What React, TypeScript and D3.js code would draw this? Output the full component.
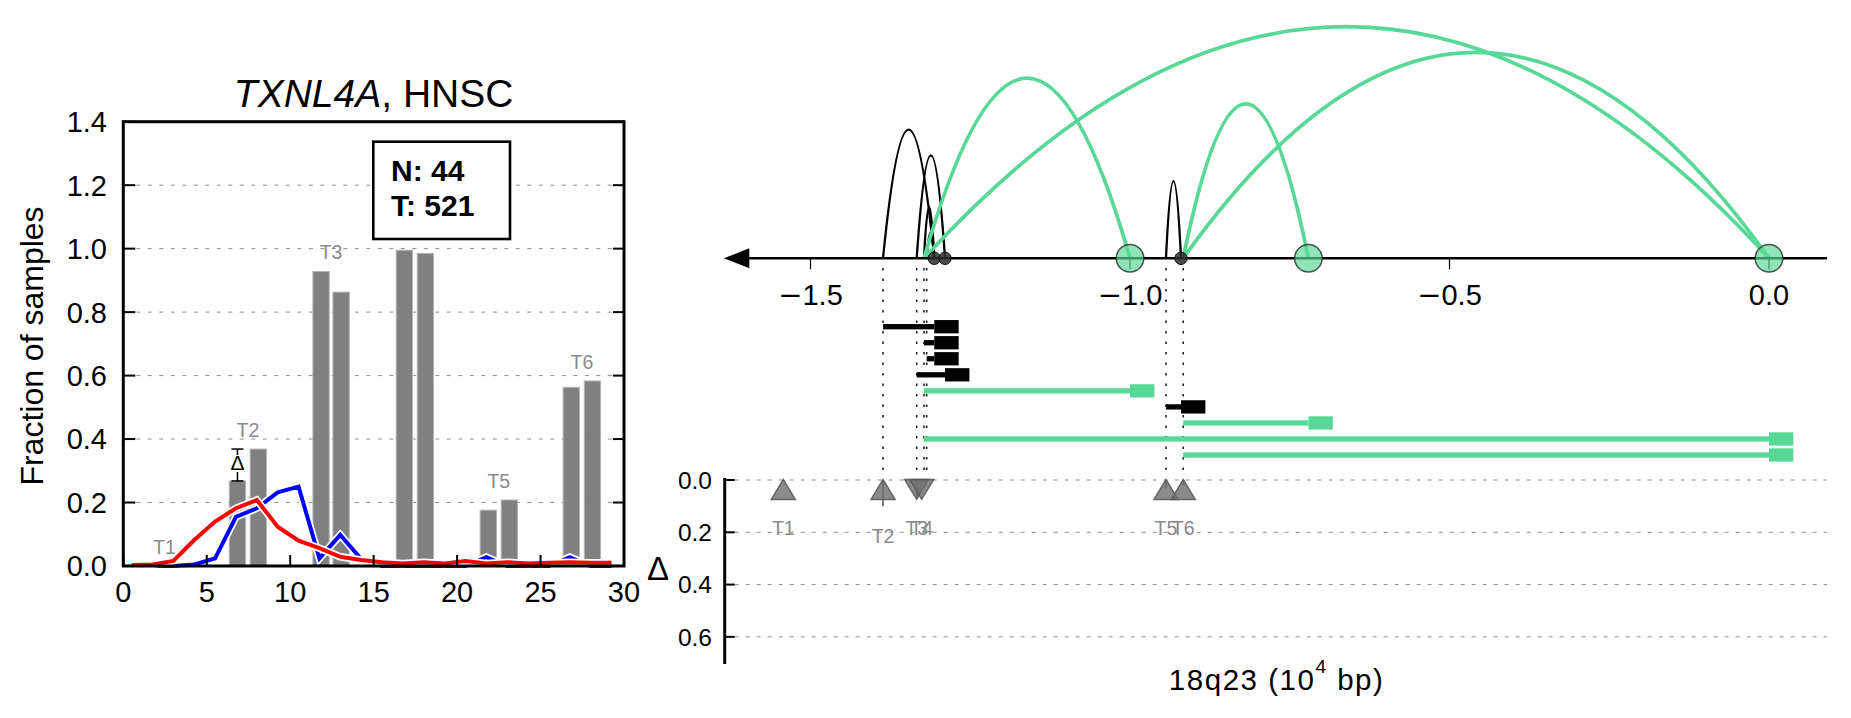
import React from "react";
import * as d3 from "d3";

const W = 1851;
const H = 718;
const FONT = "'Liberation Sans', Arial, Helvetica, sans-serif";

// ---------- Left panel data ----------
const groupLabels = ["T1", "T2", "T3", "T4", "T5", "T6"];
const barLeftX = [1.84, 6.84, 11.85, 16.84, 21.87, 26.84];
const barRightX = [3.09, 8.09, 13.05, 18.1, 23.13, 28.11];
const barLeftVal = [0.0, 0.268, 0.928, 0.995, 0.176, 0.563];
const barRightVal = [0.0, 0.3685, 0.863, 0.985, 0.208, 0.583];

const binX = [0.5, 1.75, 3.0, 4.25, 5.5, 6.75, 8.0, 9.25, 10.5, 11.75, 13.0, 14.25, 15.5, 16.75, 18.0, 19.25, 20.5, 21.75, 23.0, 24.25, 25.5, 26.75, 28.0, 29.25];
const blueVals = [0, 0, 0, 0.005, 0.024, 0.155, 0.182, 0.232, 0.25, 0.024, 0.098, 0.022, 0, 0, 0, 0, 0, 0.028, 0, 0, 0, 0.028, 0, 0];
const redVals = [0.003, 0.005, 0.016, 0.082, 0.14, 0.182, 0.208, 0.124, 0.08, 0.056, 0.029, 0.019, 0.012, 0.008, 0.012, 0.008, 0.016, 0.008, 0.012, 0.008, 0.01, 0.012, 0.01, 0.01];

const xTicksL = [0, 5, 10, 15, 20, 25, 30];
const yTicksL = [0, 0.2, 0.4, 0.6, 0.8, 1.0, 1.2, 1.4];
const gridL = [0.2, 0.4, 0.6, 0.8, 1.0, 1.2];
const countLines = ["N: 44", "T: 521"];

// ---------- Right panel data ----------
const juncStart = [-1.3865, -1.3224, -1.3182, -1.3338, -1.3224, -0.9437, -0.9167, -1.3224, -0.9167];
const juncEnd = [-1.3063, -1.3063, -1.3063, -1.2895, -1.0, -0.9202, -0.7208, 0.0, 0.0];
const juncNovel = [false, false, false, false, true, false, true, true, true];
const juncRank = [5, 2, 1, 4, 7, 3, 6, 9, 8];
const xTicksR = [-1.5, -1.0, -0.5, 0.0];
const exonX = [-1.5426, -1.3865, -1.3338, -1.326, -0.9437, -0.9167];
const deltaLabelY = [0.21, 0.242, 0.21, 0.21, 0.21, 0.21];
const yTicksD = [0, 0.2, 0.4, 0.6];

const GREEN = "#58d896";

export default function App() {
  // scales
  const xL = d3.scaleLinear().domain([0, 30]).range([123.3, 624]);
  const yL = d3.scaleLinear().domain([0, 1.4]).range([566, 121.7]);
  const xR = d3.scaleLinear().domain([-1.5, 0]).range([810.5, 1769]);
  const axisY = 258.3;
  const hR = d3.scaleLinear().domain([0, 9]).range([0, 231.6]);
  const rowY = d3.scaleLinear().domain([0, 8]).range([326.7, 455]);
  const yD = d3.scaleLinear().domain([0, 0.7]).range([480, 663]);
  const axisLeftR = 724.7;
  const axisRightR = 1827;

  const line = d3
    .line<[number, number]>()
    .x((d) => xL(d[0]))
    .y((d) => yL(d[1]));
  const bluePts = binX.map((x, i) => [x, blueVals[i]] as [number, number]);
  const redPts = binX.map((x, i) => [x, redVals[i]] as [number, number]);

  const deltas = barRightVal.map((v, i) => v - barLeftVal[i]);
  let maxI = 0;
  deltas.forEach((d, i) => {
    if (Math.abs(d) > Math.abs(deltas[maxI])) maxI = i;
  });

  const barW = 0.98;
  const bars: { x: number; v: number }[] = [];
  groupLabels.forEach((_, i) => {
    bars.push({ x: barLeftX[i], v: barLeftVal[i] });
    bars.push({ x: barRightX[i], v: barRightVal[i] });
  });

  // errorbar for the largest delta
  const ebX = xL(barLeftX[maxI]);
  const ebY1 = yL(barLeftVal[maxI]);
  const ebY2 = yL(barRightVal[maxI]);
  const ebMid = (ebY1 + ebY2) / 2;

  // right: unique starts & ends
  const uniqStarts = Array.from(new Set(juncStart));
  const endMarkers: { v: number; novel: boolean }[] = [];
  juncEnd.forEach((v, i) => {
    if (!endMarkers.find((m) => m.v === v)) endMarkers.push({ v, novel: juncNovel[i] });
  });

  const arcPath = (i: number) => {
    const x0 = xR(juncStart[i]);
    const x1 = xR(juncEnd[i]);
    const h = hR(juncRank[i]);
    return `M${x0},${axisY} Q${(x0 + x1) / 2},${axisY - 2 * h} ${x1},${axisY}`;
  };
  const order = juncStart.map((_, i) => i);
  const arcOrder = [...order.filter((i) => !juncNovel[i]), ...order.filter((i) => juncNovel[i])];

  const boxW = 24.4;
  const boxH = 13.3;
  const lineH = 5.3;

  return (
    <svg
      width={W}
      height={H}
      viewBox={`0 0 ${W} ${H}`}
      style={{ position: "absolute", left: 0, top: 0, background: "#fff" }}
      fontFamily={FONT}
    >
      <rect x={0} y={0} width={W} height={H} fill="#fff" />
      {/* ================= LEFT PANEL ================= */}
      {gridL.map((t) => (
        <line
          key={"gl" + t}
          x1={xL(0) + 13}
          x2={xL(30) - 11}
          y1={yL(t)}
          y2={yL(t)}
          stroke="#8c8c8c"
          strokeWidth={1}
          strokeDasharray="4,7.5"
        />
      ))}
      {bars.map((b, i) => (
        <rect
          key={"bar" + i}
          x={xL(b.x - barW / 2)}
          y={yL(b.v)}
          width={xL(barW) - xL(0)}
          height={Math.max(0, yL(0) - yL(b.v))}
          fill="#808080"
          stroke="#b5b5b5"
          strokeWidth={1}
        />
      ))}
      {groupLabels.map((g, i) => (
        <text
          key={"tl" + g}
          x={xL((barLeftX[i] + barRightX[i]) / 2)}
          y={yL(Math.max(barLeftVal[i], barRightVal[i]) + 0.038)}
          textAnchor="middle"
          fontSize={19.5}
          fill="#8a8a8a"
        >
          {g}
        </text>
      ))}
      {/* lines with white halos */}
      <path d={line(bluePts) || ""} fill="none" stroke="#fff" strokeWidth={7.5} strokeLinejoin="miter" />
      <path d={line(bluePts) || ""} fill="none" stroke="#0000ff" strokeWidth={4} strokeLinejoin="miter" />
      <path d={line(redPts) || ""} fill="none" stroke="#fff" strokeWidth={7.5} strokeLinejoin="miter" />
      <path d={line(redPts) || ""} fill="none" stroke="#ff0000" strokeWidth={4} strokeLinejoin="miter" />

      {/* delta errorbar */}
      <line x1={ebX} x2={ebX} y1={ebY1} y2={ebY2} stroke="#000" strokeWidth={1.5} />
      <line x1={ebX - 6} x2={ebX + 6} y1={ebY1} y2={ebY1} stroke="#000" strokeWidth={1.5} />
      <line x1={ebX - 6} x2={ebX + 6} y1={ebY2} y2={ebY2} stroke="#000" strokeWidth={1.5} />
      <rect x={ebX - 9} y={ebMid - 10} width={18} height={17} fill="#fff" />
      <text x={ebX} y={ebMid + 5} textAnchor="middle" fontSize={21} fill="#000">
        Δ
      </text>

      {/* N/T box */}
      <rect x={373.3} y={141.7} width={136.7} height={97.3} fill="#fff" stroke="#000" strokeWidth={2.6} />
      {countLines.map((t, i) => (
        <text key={"ct" + i} x={391} y={180.7 + i * 35.3} fontSize={30} fontWeight="bold" fill="#000">
          {t}
        </text>
      ))}

      {/* frame */}
      <rect x={xL(0)} y={yL(1.4)} width={xL(30) - xL(0)} height={yL(0) - yL(1.4)} fill="none" stroke="#000" strokeWidth={3} />
      {yTicksL.map((t) => (
        <g key={"yt" + t}>
          <line x1={xL(0)} x2={xL(0) + 12} y1={yL(t)} y2={yL(t)} stroke="#000" strokeWidth={2} />
          <line x1={xL(30)} x2={xL(30) - 11} y1={yL(t)} y2={yL(t)} stroke="#000" strokeWidth={2} />
          <text x={107} y={yL(t)} dy="0.36em" textAnchor="end" fontSize={29} fill="#000">
            {t.toFixed(1)}
          </text>
        </g>
      ))}
      {xTicksL.map((t) => (
        <g key={"xt" + t}>
          <line x1={xL(t)} x2={xL(t)} y1={yL(0)} y2={yL(0) - 11} stroke="#000" strokeWidth={2} />
          <text x={xL(t)} y={601.5} textAnchor="middle" fontSize={29} fill="#000">
            {t}
          </text>
        </g>
      ))}
      <text x={(xL(0) + xL(30)) / 2} y={107.3} textAnchor="middle" fontSize={39} fill="#000">
        <tspan fontStyle="italic">TXNL4A</tspan>, HNSC
      </text>
      <text transform="translate(43,346) rotate(-90)" textAnchor="middle" fontSize={32} fill="#000">
        Fraction of samples
      </text>

      {/* ================= RIGHT PANEL ================= */}
      {/* dotted guides */}
      {uniqStarts.map((s) => (
        <line
          key={"dv" + s}
          x1={xR(s)}
          x2={xR(s)}
          y1={268}
          y2={474}
          stroke="#222"
          strokeWidth={1.6}
          strokeDasharray="2.5,8"
        />
      ))}
      {/* Δ gridlines */}
      {yTicksD.map((t) => (
        <line
          key={"gd" + t}
          x1={axisLeftR + 10}
          x2={axisRightR}
          y1={yD(t)}
          y2={yD(t)}
          stroke="#8c8c8c"
          strokeWidth={1}
          strokeDasharray="4,7"
        />
      ))}
      {/* transcript rows */}
      {order.map((i) => {
        const c = juncNovel[i] ? GREEN : "#000";
        const y = rowY(i);
        const x0 = xR(juncStart[i]);
        const x1 = xR(juncEnd[i]);
        return (
          <g key={"row" + i}>
            <rect x={x0} y={y - lineH / 2} width={x1 - x0} height={lineH} fill={c} />
            <rect x={x1} y={y - boxH / 2} width={boxW} height={boxH} fill={c} />
          </g>
        );
      })}
      {/* arcs */}
      {arcOrder.map((i) => (
        <path
          key={"arc" + i}
          d={arcPath(i)}
          fill="none"
          stroke={juncNovel[i] ? GREEN : "#000"}
          strokeWidth={juncNovel[i] ? 3.7 : 2.3}
        />
      ))}
      {/* main axis */}
      <line x1={748} x2={axisRightR} y1={axisY} y2={axisY} stroke="#000" strokeWidth={2.6} />
      <path d={`M${axisLeftR - 0.7},${axisY} L${749.3},${axisY - 10} L${749.3},${axisY + 10} Z`} fill="#000" />
      {xTicksR.map((t) => (
        <g key={"xr" + t}>
          <line x1={xR(t)} x2={xR(t)} y1={axisY} y2={axisY + 11} stroke="#000" strokeWidth={1.2} />
          <text x={xR(t)} y={305} textAnchor="middle" fontSize={29} fill="#000">
            {t < 0 ? <tspan fontFamily="'DejaVu Sans', sans-serif">{"\u2212"}</tspan> : null}
            {Math.abs(t).toFixed(1)}
          </text>
        </g>
      ))}
      {/* end markers */}
      {endMarkers.map((m) =>
        m.novel ? (
          <circle
            key={"em" + m.v}
            cx={xR(m.v)}
            cy={axisY}
            r={13.8}
            fill="#5ad996"
            fillOpacity={0.68}
            stroke="#333"
            strokeOpacity={0.85}
            strokeWidth={1.5}
          />
        ) : (
          <circle
            key={"em" + m.v}
            cx={xR(m.v)}
            cy={axisY}
            r={6.2}
            fill="#2e2e2e"
            fillOpacity={0.85}
            stroke="#111"
            strokeWidth={1}
          />
        )
      )}

      {/* Δ panel */}
      <line x1={axisLeftR} x2={axisLeftR} y1={478} y2={664} stroke="#000" strokeWidth={3} />
      {yTicksD.map((t) => (
        <g key={"ytd" + t}>
          <line x1={axisLeftR} x2={axisLeftR + 10} y1={yD(t)} y2={yD(t)} stroke="#000" strokeWidth={2} />
          <text x={712} y={yD(t)} dy="0.36em" textAnchor="end" fontSize={24.5} fill="#000">
            {t.toFixed(1)}
          </text>
        </g>
      ))}
      {exonX.map((x, i) => {
        const cx = xR(x);
        const cy = yD(0.036);
        const up = deltas[i] >= 0;
        const tri = up
          ? `M${cx},${cy - 10} L${cx + 12},${cy + 10} L${cx - 12},${cy + 10} Z`
          : `M${cx},${cy + 10} L${cx + 12},${cy - 10} L${cx - 12},${cy - 10} Z`;
        return (
          <g key={"tri" + i}>
            <line x1={cx} x2={cx} y1={yD(0)} y2={yD(Math.abs(deltas[i]))} stroke="#7a7a7a" strokeWidth={2} />
            <path d={tri} fill="#6e6e6e" fillOpacity={0.8} stroke="#5a5a5a" strokeOpacity={0.9} strokeWidth={1.5} />
            <text x={cx} y={yD(deltaLabelY[i])} textAnchor="middle" fontSize={19.5} fill="#8a8a8a">
              {groupLabels[i]}
            </text>
          </g>
        );
      })}
      <text x={658} y={580} textAnchor="middle" fontSize={33} fill="#000">
        Δ
      </text>
      <text
        x={(axisLeftR + axisRightR) / 2}
        y={690}
        textAnchor="middle"
        fontSize={29.5}
        fill="#000"
        textLength={214}
        lengthAdjust="spacing"
      >
        18q23 (10<tspan fontSize={19} dy={-17}>4</tspan>
        <tspan dy={17}> bp)</tspan>
      </text>
    </svg>
  );
}
